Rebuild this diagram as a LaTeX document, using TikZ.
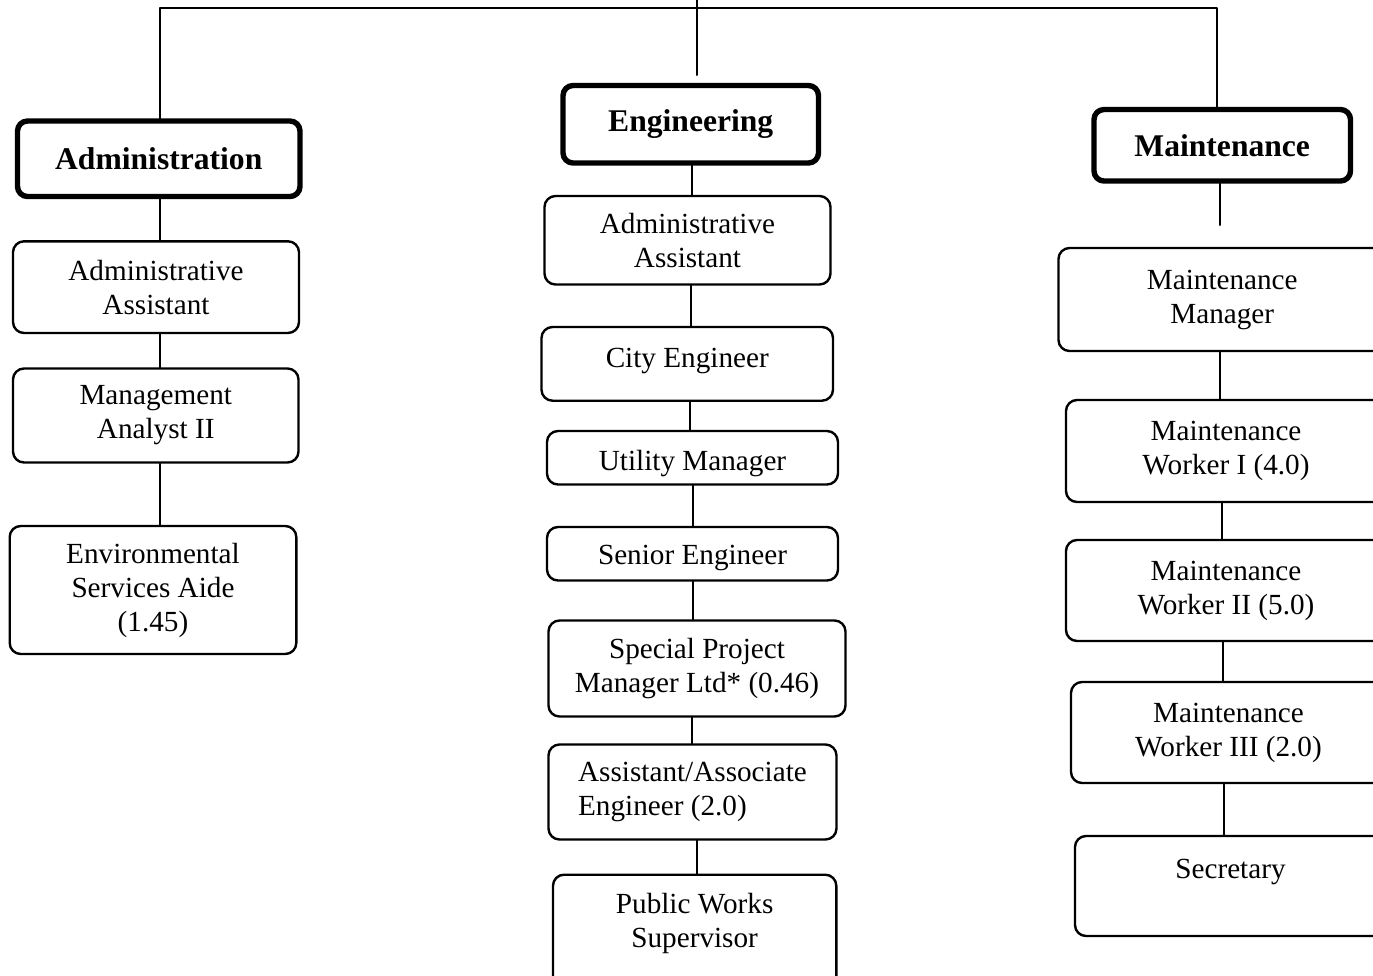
\documentclass[tikz,border=0pt]{standalone}
\usepackage{fontspec}
\setmainfont{Liberation Serif}

\begin{document}
\begin{tikzpicture}[x=0.5pt, y=-0.5pt, line cap=round, line join=round,
  dept/.style={draw, rounded corners=5pt, line width=2.7pt, inner sep=0pt,
    font=\fontsize{15.8}{19}\selectfont\bfseries},
  post/.style={draw, rounded corners=5.5pt, line width=1.2pt, inner sep=0pt,
    align=center, font=\fontsize{14.6}{17}\selectfont},
  link/.style={line width=1pt}]
\useasboundingbox (0,0) rectangle (1373,976);
\clip (0,0) rectangle (1373,976);
% ---- department heads (x1/y1/x2/y2 in px) ----
\foreach \n/\xa/\ya/\xb/\yb/\t in {adm/17.5/121/300/196.5/Administration,
    eng/563/85.5/818.5/163/Engineering, mnt/1094/109.5/1350.5/181/Maintenance} {
  \node[dept, minimum width={(\xb-\xa)*0.5pt}, minimum height={(\yb-\ya)*0.5pt}]
    (\n) at ({(\xa+\xb)/2},{(\ya+\yb)/2}) {\t};
}
% ---- positions ----
\foreach \n/\xa/\ya/\xb/\yb/\t in {
    adm_aa/13/241.3/299/333/{Administrative\\Assistant},
    adm_ma/13/368.5/298.5/462.5/{Management\\Analyst II},
    adm_esa/9.7/526/296.3/654/{Environmental\\Services Aide\\(1.45)},
    eng_aa/544.5/196/830.5/284.5/{Administrative\\Assistant},
    eng_spm/548.5/620.5/845.5/716.5/{Special Project\\Manager Ltd* (0.46)},
    mnt_mm/1058.5/248/1386/351/{Maintenance\\Manager},
    mnt_w1/1066/400/1386/502/{Maintenance\\Worker I (4.0)},
    mnt_w2/1066/540/1386/641/{Maintenance\\Worker II (5.0)},
    mnt_w3/1071/682/1386/783/{Maintenance\\Worker III (2.0)},
    mnt_sec/1075/836/1386/936/{Secretary\\~}} {
  \node[post, minimum width={(\xb-\xa)*0.5pt}, minimum height={(\yb-\ya)*0.5pt}]
    (\n) at ({(\xa+\xb)/2},{(\ya+\yb)/2}) {\t};
}
% one-liners sit a little off centre
\node[post, text depth=6.2pt, minimum width=145.75pt, minimum height=36.85pt]
  (eng_ce) at (687.25,363.85) {City Engineer};
\node[post, text height=16pt, minimum width=145.5pt, minimum height=26.75pt]
  (eng_um) at (692.5,457.75) {Utility Manager};
\node[post, text height=14pt, minimum width=145.5pt, minimum height=26.75pt]
  (eng_se) at (692.5,553.75) {Senior Engineer};
\node[post, align=left, minimum width=144pt, minimum height=47.5pt]
  (eng_aae) at (692.5,792) {Assistant/Associate\\Engineer (2.0)};
\node[post, text depth=12pt, minimum width=141.65pt, minimum height=57.65pt]
  (eng_pws) at (694.65,932.35) {Public Works\\Supervisor};
% ---- top bus and stubs ----
\coordinate (root) at (697,0);
\coordinate (bus) at (697,7.5);
\coordinate (eng_stub) at (697,75);
\coordinate (mnt_stub) at (1220,225);
\draw[link] (adm.north -| 160,0) |- (bus) -| (mnt.north -| 1216.5,0);
\draw[link] (root) -- (eng_stub);
\draw[link] (mnt.south -| mnt_stub) -- (mnt_stub);
% ---- reporting lines ----
\foreach \a/\b/\x in {adm/adm_aa/160, adm_aa/adm_ma/160, adm_ma/adm_esa/159.5,
    eng/eng_aa/692, eng_aa/eng_ce/691, eng_ce/eng_um/689.5, eng_um/eng_se/693,
    eng_se/eng_spm/693, eng_spm/eng_aae/692, eng_aae/eng_pws/697,
    mnt_mm/mnt_w1/1220, mnt_w1/mnt_w2/1222, mnt_w2/mnt_w3/1223, mnt_w3/mnt_sec/1224} {
  \draw[link] (\a.south -| \x,0) -- (\b.north -| \x,0);
}
\end{tikzpicture}
\end{document}
